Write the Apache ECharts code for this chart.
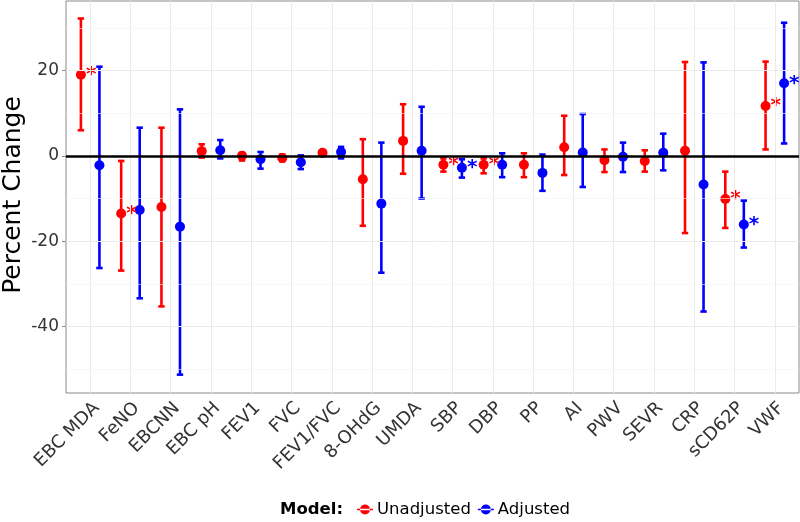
<!DOCTYPE html>
<html>
<head>
<meta charset="utf-8">
<script src="https://cdn.jsdelivr.net/npm/echarts@6/dist/echarts.min.js"></script>
<style>
html,body{margin:0;padding:0;background:#fff;}
#chart{width:800px;height:522px;}
</style>
</head>
<body>
<div id="chart"></div>
<script>
var categories = ['EBC MDA','FeNO','EBCNN','EBC pH','FEV1','FVC','FEV1/FVC','8-OHdG','UMDA','SBP','DBP','PP','AI','PWV','SEVR','CRP','sCD62P','VWF'];

var unadjEst  = [19.0, -13.5, -12.0, 1.1, 0.0, -0.5, 0.7, -5.5, 3.5, -2.1, -2.1, -2.1, 2.0, -1.0, -1.2, 1.2, -10.1, 11.7];
var unadjLow  = [6.0, -26.9, -35.3, -0.4, -1.1, -1.3, 0.2, -16.4, -4.2, -3.7, -4.1, -5.0, -4.5, -3.8, -3.7, -18.1, -16.9, 1.5];
var unadjHigh = [32.2, -1.2, 6.6, 2.7, 0.7, 0.3, 1.2, 3.9, 12.1, -0.6, -0.6, 0.6, 9.4, 1.5, 1.3, 22.0, -3.7, 22.1];
var unadjSig  = [1,1,0,0,0,0,0,0,0,1,1,0,0,0,0,0,1,1];

var adjEst  = [-2.2, -12.7, -16.6, 1.3, -0.8, -1.5, 0.9, -11.2, 1.2, -2.8, -2.1, -4.0, 0.8, -0.2, 0.7, -6.7, -16.1, 17.0];
var adjLow  = [-26.3, -33.4, -51.3, -0.6, -3.0, -3.1, -0.6, -27.4, -10.0, -5.1, -5.0, -8.2, -7.3, -3.8, -3.4, -36.5, -21.5, 2.9];
var adjHigh = [20.9, 6.6, 10.9, 3.7, 0.9, 0.1, 2.1, 3.1, 11.5, -0.8, 0.6, 0.3, 9.8, 3.1, 5.2, 21.9, -10.5, 31.2];
var adjSig  = [0,0,0,0,0,0,0,0,0,1,0,0,0,0,0,0,1,1];

var yTicks = [-40, -20, 0, 20];
var yMinor = [-50, -30, -10, 10, 30];

var FONT = 'DejaVu Sans';
var RED = '#FF0000', BLUE = '#0000FF';
var DODGE = 0.23;

var xPos = categories.map(function(c, i){ return i + 1; });

function errData(low, high, off){
  return low.map(function(l, i){ return [xPos[i] + off, l, high[i]]; });
}
function ptData(est, sig, off){
  return est.map(function(v, i){ return {value:[xPos[i] + off, v], sig: sig[i]}; });
}
function errRender(color){
  return function(params, api){
    var x = api.value(0), lo = api.value(1), hi = api.value(2);
    var pLo = api.coord([x, lo]), pHi = api.coord([x, hi]);
    var cw = 3.2;
    var st = {stroke: color, lineWidth: 2.6};
    return {type:'group', children:[
      {type:'line', shape:{x1:pLo[0], y1:pLo[1], x2:pHi[0], y2:pHi[1]}, style:st},
      {type:'line', shape:{x1:pLo[0]-cw, y1:pLo[1], x2:pLo[0]+cw, y2:pLo[1]}, style:st},
      {type:'line', shape:{x1:pHi[0]-cw, y1:pHi[1], x2:pHi[0]+cw, y2:pHi[1]}, style:st}
    ]};
  };
}

var gridMarks = [];
yMinor.forEach(function(v){ gridMarks.push({yAxis: v, lineStyle:{color:'#F3F3F3', width:0.6, type:'solid'}}); });
yTicks.forEach(function(v){ gridMarks.push({yAxis: v, lineStyle:{color:'#EBEBEB', width:1, type:'solid'}}); });
xPos.forEach(function(v){ gridMarks.push({xAxis: v, lineStyle:{color:'#EBEBEB', width:1, type:'solid'}}); });

var legendIcon = 'path://M0,4.2h16v1.6H0z M3,5a5,5 0 1,0 10,0a5,5 0 1,0 -10,0z';

function sigLabel(color){
  return {
    show: true,
    position: 'right',
    distance: 0,
    offset: [0, 4],
    color: color,
    fontFamily: FONT,
    fontWeight: 'bold',
    fontSize: 20,
    formatter: function(p){ return p.data.sig ? '*' : ''; }
  };
}

var chart = echarts.init(document.getElementById('chart'), null, {renderer:'canvas'});
chart.setOption({
  animation: false,
  backgroundColor: '#fff',
  textStyle: {fontFamily: FONT},
  grid: {left: 66, right: 1, top: 1, height: 392, show: true, borderColor: '#8A8A8A', borderWidth: 1, backgroundColor: '#fff', containLabel: false, outerBoundsMode: 'none'},
  title: {
    text: 'Model:', left: 280, top: 501, padding: 0,
    textStyle: {fontFamily: FONT, fontWeight: 'bold', fontSize: 16.5, color: '#000'}
  },
  graphic: [{
    type: 'text', x: 13, y: 195, rotation: Math.PI / 2,
    style: {text: 'Percent Change', fontFamily: FONT, fontSize: 25, fill: '#000', align: 'center', verticalAlign: 'middle'}
  }],
  legend: {
    data: [{name:'Unadjusted', icon: legendIcon}, {name:'Adjusted', icon: legendIcon}],
    left: 357, top: 501, padding: 0,
    itemWidth: 16, itemHeight: 10, itemGap: 7,
    textStyle: {fontFamily: FONT, fontSize: 16.5, color: '#000', padding:[0,0,0,-1]},
    selectedMode: false
  },
  xAxis: {
    type: 'value', min: 0.4, max: 18.6,
    axisLine: {show: false},
    splitLine: {show: false},
    axisTick: {show: true, length: 4, lineStyle: {color: '#8A8A8A', width: 1}, customValues: xPos},
    axisLabel: {
      customValues: xPos, rotate: 45, margin: 6,
      align: 'right', verticalAlign: 'top',
      fontFamily: FONT, fontSize: 18, color: '#333',
      formatter: function(v){ return categories[Math.round(v) - 1] || ''; }
    }
  },
  yAxis: {
    type: 'value', min: -55.6, max: 36.3,
    axisLine: {show: false},
    splitLine: {show: false},
    axisTick: {show: true, length: 4, lineStyle: {color: '#8A8A8A', width: 1}, customValues: yTicks},
    axisLabel: {customValues: yTicks, margin: 7, fontFamily: FONT, fontSize: 17, color: '#333'}
  },
  series: [
    {
      type: 'line', name: 'grid', data: [], z: 0, silent: true,
      markLine: {silent: true, symbol: 'none', label: {show: false}, animation: false, data: gridMarks}
    },
    {
      type: 'line', name: 'zero', data: [], z: 1, silent: true,
      markLine: {silent: true, symbol: 'none', label: {show: false}, animation: false,
        data: [{yAxis: 0, lineStyle: {color: '#000', width: 2.6, type: 'solid'}}]}
    },
    {
      type: 'custom', name: 'Unadjusted', z: 3, renderItem: errRender(RED),
      itemStyle: {color: RED}, encode: {x: 0, y: [1, 2]},
      data: errData(unadjLow, unadjHigh, -DODGE)
    },
    {
      type: 'custom', name: 'Adjusted', z: 3, renderItem: errRender(BLUE),
      itemStyle: {color: BLUE}, encode: {x: 0, y: [1, 2]},
      data: errData(adjLow, adjHigh, DODGE)
    },
    {
      type: 'scatter', name: 'Unadjusted', z: 4, symbol: 'circle', symbolSize: 10,
      itemStyle: {color: RED, opacity: 1}, label: sigLabel(RED),
      labelLayout: {hideOverlap: false},
      data: ptData(unadjEst, unadjSig, -DODGE)
    },
    {
      type: 'scatter', name: 'Adjusted', z: 4, symbol: 'circle', symbolSize: 10,
      itemStyle: {color: BLUE, opacity: 1}, label: sigLabel(BLUE),
      labelLayout: {hideOverlap: false},
      data: ptData(adjEst, adjSig, DODGE)
    }
  ]
});
</script>
</body>
</html>
